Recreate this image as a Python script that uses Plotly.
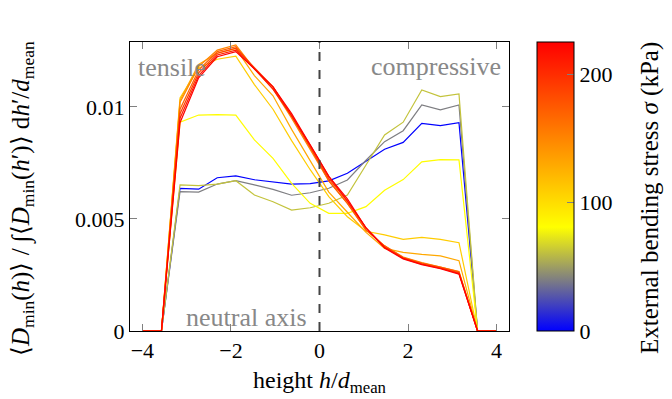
import plotly.graph_objects as go
from plotly.colors import sample_colorscale

# Bin centres of the height profile, h / d_mean
height = [-3.99, -3.57, -3.15, -2.73, -2.31, -1.89, -1.47, -1.05, -0.63, -0.21,
          0.21, 0.63, 1.05, 1.47, 1.89, 2.31, 2.73, 3.15, 3.57, 3.99]

# External bending stress of each profile (kPa)
stress = [0, 40, 62, 82, 110, 130, 150, 170, 190, 210, 225]

# Normalised defect distribution for each stress level
p0 = [0, 0, 0.00637, 0.00633, 0.00684, 0.00692, 0.00675, 0.00666, 0.00656, 0.00658,
      0.00670, 0.00704, 0.00757, 0.00811, 0.00842, 0.00927, 0.00917, 0.00930, 0, 0]
p40 = [0, 0, 0.00622, 0.00620, 0.00656, 0.00671, 0.00652, 0.00632, 0.00606, 0.00617,
       0.00637, 0.00674, 0.00762, 0.00845, 0.00894, 0.01009, 0.00987, 0.01009, 0, 0]
p62 = [0, 0, 0.00652, 0.00649, 0.00656, 0.00671, 0.00607, 0.00577, 0.00540, 0.00550,
       0.00570, 0.00607, 0.00741, 0.00875, 0.00932, 0.01076, 0.01046, 0.01058, 0, 0]
p82 = [0, 0, 0.00932, 0.00964, 0.00966, 0.00964, 0.00853, 0.00771, 0.00659, 0.00570,
       0.00525, 0.00525, 0.00555, 0.00628, 0.00676, 0.00755, 0.00765, 0.00764, 0, 0]
p110 = [0, 0, 0.01040, 0.01173, 0.01213, 0.01227, 0.01100, 0.00990, 0.00850, 0.00720,
        0.00600, 0.00510, 0.00445, 0.00429, 0.00409, 0.00418, 0.00409, 0.00394, 0, 0]
p130 = [0, 0, 0.01030, 0.01190, 0.01240, 0.01260, 0.01140, 0.01050, 0.00900, 0.00760,
        0.00620, 0.00530, 0.00440, 0.00369, 0.00351, 0.00342, 0.00335, 0.00314, 0, 0]
p150 = [0, 0, 0.01020, 0.01180, 0.01254, 0.01277, 0.01170, 0.01080, 0.00950, 0.00810,
        0.00670, 0.00570, 0.00450, 0.00380, 0.00330, 0.00305, 0.00287, 0.00266, 0, 0]
p170 = [0, 0, 0.00990, 0.01165, 0.01247, 0.01269, 0.01170, 0.01090, 0.00960, 0.00820,
        0.00670, 0.00570, 0.00450, 0.00380, 0.00328, 0.00303, 0.00285, 0.00264, 0, 0]
p190 = [0, 0, 0.00970, 0.01152, 0.01240, 0.01262, 0.01175, 0.01090, 0.00960, 0.00820,
        0.00680, 0.00580, 0.00460, 0.00375, 0.00326, 0.00300, 0.00282, 0.00260, 0, 0]
p210 = [0, 0, 0.00950, 0.01140, 0.01232, 0.01254, 0.01170, 0.01080, 0.00960, 0.00830,
        0.00690, 0.00580, 0.00460, 0.00374, 0.00324, 0.00298, 0.00280, 0.00257, 0, 0]
p225 = [0, 0, 0.00930, 0.01130, 0.01224, 0.01247, 0.01170, 0.01090, 0.00970, 0.00830,
        0.00690, 0.00590, 0.00460, 0.00370, 0.00322, 0.00296, 0.00278, 0.00254, 0, 0]
profiles = [p0, p40, p62, p82, p110, p130, p150, p170, p190, p210, p225]

x_ticks = [-4, -2, 0, 2, 4]
y_ticks = [0, 0.005, 0.01]
y_tick_text = ["0", "0.005", "0.01"]
cbar_ticks = [0, 100, 200]

CMIN, CMAX = 0, 225
cscale = [[0.0, "rgb(0,0,255)"], [0.18, "rgb(128,128,128)"],
          [0.36, "rgb(255,255,0)"], [1.0, "rgb(255,0,0)"]]

FONT = "Liberation Serif"

fig = go.Figure()
for s, prof in zip(stress, profiles):
    col = sample_colorscale(cscale, [(s - CMIN) / (CMAX - CMIN)])[0]
    fig.add_trace(go.Scatter(x=height, y=prof, mode="lines",
                             line=dict(color=col, width=1.2),
                             showlegend=False, hoverinfo="skip"))

# Colour bar for the stress scale
fig.add_trace(go.Scatter(
    x=[None], y=[None], mode="markers", showlegend=False,
    marker=dict(color=[0], cmin=CMIN, cmax=CMAX, colorscale=cscale, showscale=True,
                colorbar=dict(x=1.074, xanchor="left", xpad=0, ypad=0,
                              y=0.5, yanchor="middle", len=1, lenmode="fraction",
                              thickness=37, thicknessmode="pixels",
                              outlinecolor="black", outlinewidth=1,
                              tickvals=cbar_ticks, ticks="inside", ticklen=7,
                              tickcolor="gray",
                              tickfont=dict(family=FONT, size=22, color="black"))),
))

# Neutral axis marker
fig.add_shape(type="line", x0=0, x1=0, y0=0, y1=1, xref="x", yref="paper",
              line=dict(color="#444444", width=2, dash="dash"))

gray_txt = dict(family=FONT, size=26, color="#888888")
fig.add_annotation(text="tensile", x=0.016, y=0.912, xref="paper", yref="paper",
                   xanchor="left", yanchor="middle", showarrow=False, font=gray_txt)
fig.add_annotation(text="compressive", x=0.984, y=0.915, xref="paper", yref="paper",
                   xanchor="right", yanchor="middle", showarrow=False, font=gray_txt)
fig.add_annotation(text="neutral axis", x=0.307, y=0.045, xref="paper", yref="paper",
                   xanchor="center", yanchor="middle", showarrow=False, font=gray_txt)

black_txt = dict(family=FONT, size=25, color="black")
fig.add_annotation(text="height <i>h</i>/<i>d</i><sub>mean</sub>",
                   x=0.5, y=-0.175, xref="paper", yref="paper",
                   xanchor="center", yanchor="middle", showarrow=False,
                   font=dict(family=FONT, size=24, color="black"))
fig.add_annotation(
    text="⟨<i>D</i><sub>min</sub>(<i>h</i>)⟩ / ∫⟨<i>D</i><sub>min</sub>(<i>h</i>′)⟩ d<i>h</i>′/<i>d</i><sub>mean</sub>",
    x=-0.285, y=0.46, xref="paper", yref="paper", textangle=-90,
    xanchor="center", yanchor="middle", showarrow=False, font=black_txt)
fig.add_annotation(text="External bending stress <i>σ</i> (kPa)",
                   x=1.372, y=0.46, xref="paper", yref="paper", textangle=-90,
                   xanchor="center", yanchor="middle", showarrow=False, font=black_txt)

tick_txt = dict(family=FONT, size=22, color="black")
axis_common = dict(showline=True, linecolor="black", linewidth=1, mirror="allticks",
                   ticks="inside", ticklen=7, tickcolor="gray", showgrid=False,
                   zeroline=False, tickfont=tick_txt)
fig.update_xaxes(range=[-4.28, 4.28], tickvals=x_ticks,
                 ticktext=["−4", "−2", "0", "2", "4"], **axis_common)
fig.update_yaxes(range=[0, 0.0129], tickvals=y_ticks, ticktext=y_tick_text,
                 **axis_common)

fig.update_layout(width=672, height=399,
                  margin=dict(l=130, r=163, t=42, b=68),
                  paper_bgcolor="white", plot_bgcolor="white",
                  font=dict(family=FONT))

fig.write_html("out.html")
